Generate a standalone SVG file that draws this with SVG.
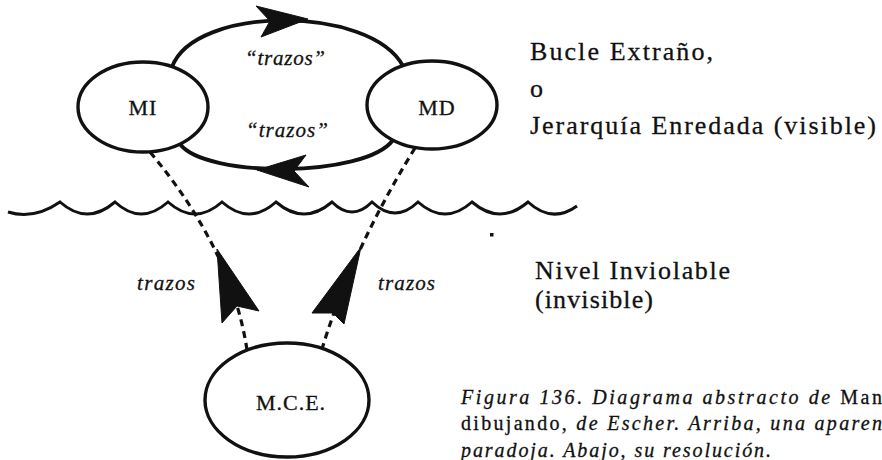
<svg xmlns="http://www.w3.org/2000/svg" width="882" height="460" viewBox="0 0 882 460">
<style>
.node{fill:#fff;stroke:#111;stroke-width:3.4}
.arc{fill:none;stroke:#111;stroke-width:3.8}
.dash{fill:none;stroke:#111;stroke-width:3.2;stroke-dasharray:7 5}
.head{fill:#111;stroke:#111;stroke-width:1;stroke-linejoin:round}
.wave{fill:none;stroke:#111;stroke-width:3}
.t{font-family:"Liberation Serif","Times New Roman",serif;fill:#111;stroke:#111;stroke-width:0.3}
.lbl{font-size:22px;text-anchor:middle;letter-spacing:1px}
.it{font-style:italic}
.big{font-size:26px}
.cap{font-size:20px;font-style:italic}
</style>
<rect width="882" height="460" fill="#fff"/>
<g id="connectors">
<path class="arc" d="M172,67 C195,5 370,5 403,66"/>
<path class="arc" d="M180,144 C205,178 365,178 393,140"/>
<polygon class="head" points="308,19 256,6 270,21 261,37"/>
<polygon class="head" points="257,170 306,155 294,171 309,187"/>
<path class="dash" d="M150,152 Q232,250 247,350"/>
<path class="dash" d="M415,148 Q352,250 322,349"/>
<polygon class="head" points="217,249 259,311 237,306 222,323"/>
<polygon class="head" points="361,247 344,324 333,313 312,313"/>
</g>
<path id="wave" class="wave" d="M8,212 Q34,220 60,202 Q87,226 115,202 Q141,226 168,202 Q195,226 222,202 Q249,226 276,202 Q304,226 332,202 Q352,222 372,202 Q395,224 418,202 Q445,226 472,202 Q500,226 528,202 Q552,224 577,206"/>
<g id="MI"><ellipse class="node" cx="143" cy="107" rx="65" ry="45"/><text class="t lbl" x="143" y="115">MI</text></g>
<g id="MD"><ellipse class="node" cx="432" cy="105" rx="65" ry="44"/><text class="t lbl" x="437" y="115">MD</text></g>
<g id="MCE"><ellipse class="node" cx="287" cy="400" rx="82" ry="57"/><text class="t lbl" x="291" y="410">M.C.E.</text></g>
<g id="labels">
<text class="t it" x="245" y="65" font-size="21" textLength="80">“trazos”</text>
<text class="t it" x="246" y="137" font-size="21" textLength="82">“trazos”</text>
<text class="t it" x="137" y="290" font-size="21" textLength="58">trazos</text>
<text class="t it" x="378" y="290" font-size="21" textLength="57">trazos</text>
<text class="t big" x="530" y="60" textLength="183">Bucle Extraño,</text>
<text class="t big" x="530" y="97">o</text>
<text class="t big" x="530" y="134" textLength="346">Jerarquía Enredada (visible)</text>
<text class="t big" x="535" y="279" textLength="195">Nivel Inviolable</text>
<text class="t big" x="535" y="308" textLength="118">(invisible)</text>
<text class="t cap" x="461" y="404" textLength="421">Figura 136. Diagrama abstracto de <tspan font-style="normal">Man</tspan></text>
<text class="t cap" x="461" y="430" textLength="421"><tspan font-style="normal">dibujando,</tspan> de Escher. Arriba, una aparen</text>
<text class="t cap" x="461" y="457" textLength="310">paradoja. Abajo, su resolución.</text>
</g>
<rect x="490" y="233" width="3.5" height="3.5" fill="#111"/>
</svg>
